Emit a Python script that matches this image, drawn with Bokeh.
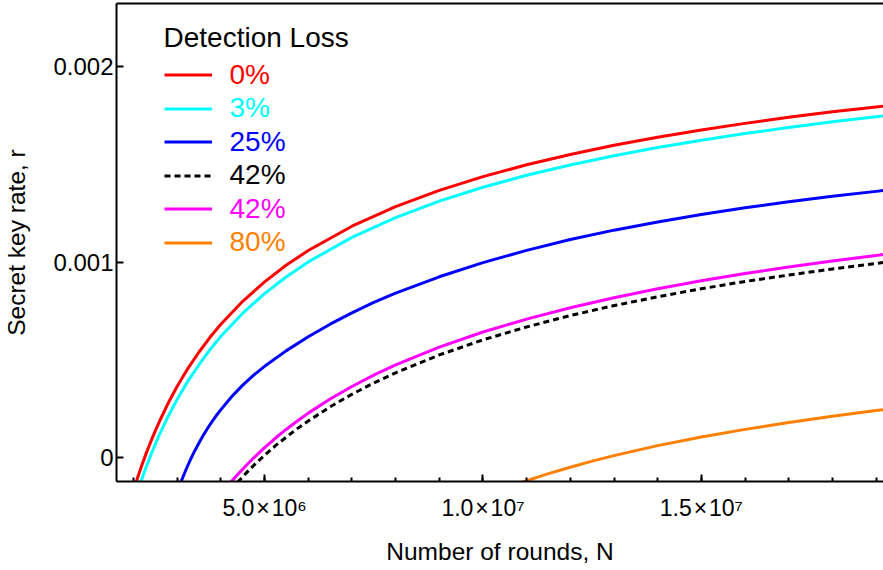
import numpy as np
from bokeh.plotting import figure
from bokeh.models import (Range1d, SingleIntervalTicker, FixedTicker, Legend,
                          LegendItem, LinearAxis)
from bokeh.embed import file_html
from bokeh.resources import INLINE

# Number of rounds N (in millions) and secret key rate r (in units of 1e-3)
n_loss0 = [2.05, 2.1, 2.2, 2.3, 2.4, 2.5, 2.6, 2.8, 3.0, 3.25, 3.5, 3.75, 4.0, 4.5,
           5.0, 5.5, 6.0, 7.0, 8.0, 9.0, 10.0, 11.0, 12.0, 13.0, 14.0, 15.0, 16.0,
           17.0, 18.0, 19.0, 19.2]
r_loss0 = [-0.131, -0.096, -0.031, 0.030, 0.086, 0.140, 0.190, 0.283, 0.366, 0.459,
           0.541, 0.616, 0.683, 0.800, 0.899, 0.985, 1.059, 1.183, 1.283, 1.366,
           1.436, 1.497, 1.549, 1.596, 1.637, 1.674, 1.708, 1.739, 1.767, 1.792, 1.797]

n_loss3 = [2.15, 2.2, 2.3, 2.4, 2.5, 2.6, 2.8, 3.0, 3.25, 3.5, 3.75, 4.0, 4.5, 5.0,
           5.5, 6.0, 7.0, 8.0, 9.0, 10.0, 11.0, 12.0, 13.0, 14.0, 15.0, 16.0, 17.0,
           18.0, 19.0, 19.2]
r_loss3 = [-0.134, -0.101, -0.040, 0.018, 0.072, 0.123, 0.216, 0.300, 0.394, 0.477,
           0.553, 0.621, 0.739, 0.839, 0.925, 1.001, 1.126, 1.227, 1.311, 1.382,
           1.443, 1.496, 1.543, 1.585, 1.622, 1.656, 1.687, 1.716, 1.742, 1.747]

n_loss25 = [3.08, 3.2, 3.3, 3.4, 3.5, 3.6, 3.7, 3.8, 3.9, 4.0, 4.25, 4.5, 4.75, 5.0,
            5.5, 6.0, 6.5, 7.0, 7.5, 8.0, 9.0, 10.0, 11.0, 12.0, 13.0, 14.0, 15.0,
            16.0, 17.0, 18.0, 19.0, 19.2]
r_loss25 = [-0.125, -0.060, -0.010, 0.036, 0.078, 0.117, 0.153, 0.187, 0.218, 0.247,
            0.314, 0.372, 0.423, 0.468, 0.548, 0.619, 0.683, 0.741, 0.794, 0.842,
            0.925, 0.997, 1.060, 1.115, 1.163, 1.205, 1.243, 1.277, 1.308, 1.336,
            1.361, 1.366]

n_loss42a = [4.38, 4.6, 4.8, 5.0, 5.25, 5.5, 5.75, 6.0, 6.5, 7.0, 7.5, 8.0, 9.0, 10.0,
             11.0, 12.0, 13.0, 14.0, 15.0, 16.0, 17.0, 18.0, 19.0, 19.2]
r_loss42a = [-0.124, -0.072, -0.027, 0.014, 0.063, 0.107, 0.150, 0.189, 0.261, 0.325,
             0.383, 0.435, 0.526, 0.603, 0.669, 0.727, 0.778, 0.823, 0.864, 0.901,
             0.934, 0.965, 0.993, 0.999]

n_loss42b = [4.23, 4.4, 4.6, 4.8, 5.0, 5.25, 5.5, 5.75, 6.0, 6.5, 7.0, 7.5, 8.0, 9.0,
             10.0, 11.0, 12.0, 13.0, 14.0, 15.0, 16.0, 17.0, 18.0, 19.0, 19.2]
r_loss42b = [-0.123, -0.080, -0.033, 0.011, 0.053, 0.102, 0.147, 0.189, 0.229, 0.301,
             0.365, 0.423, 0.475, 0.566, 0.643, 0.709, 0.767, 0.818, 0.864, 0.905,
             0.942, 0.975, 1.006, 1.034, 1.040]

n_loss80 = [10.9, 11.25, 11.5, 12.0, 12.5, 13.0, 14.0, 15.0, 16.0, 17.0, 18.0, 19.0, 19.2]
r_loss80 = [-0.124, -0.098, -0.080, -0.047, -0.016, 0.012, 0.063, 0.107, 0.146, 0.181,
            0.213, 0.242, 0.247]

legend_labels = ["0%", "3%", "25%", "42%", "42%", "80%"]
x_tick_labels = {5e6: "5.0\u200a\u00d7\u200a10\u2076",
                 1e7: "1.0\u200a\u00d7\u200a10\u2077",
                 1.5e7: "1.5\u200a\u00d7\u200a10\u2077"}
y_tick_labels = {0: "0", 0.001: "0.001", 0.002: "0.002"}

FONT = "Liberation Sans"

series = [
    (n_loss0, r_loss0, "#FF0000", None),
    (n_loss3, r_loss3, "#00FFFF", None),
    (n_loss25, r_loss25, "#0000FF", None),
    (n_loss42a, r_loss42a, "#000000", "6 4"),
    (n_loss42b, r_loss42b, "#FF00FF", None),
    (n_loss80, r_loss80, "#FF8000", None),
]

p = figure(width=883, height=570, output_backend="svg", toolbar_location=None,
           x_range=Range1d(1.61e6, 1.917e7), y_range=Range1d(-0.00012, 0.00232),
           min_border_left=116, min_border_right=0, min_border_top=3,
           min_border_bottom=89)
p.xgrid.visible = False
p.ygrid.visible = False
p.outline_line_color = None
p.background_fill_color = "white"
p.border_fill_color = "white"

renderers = []
for n_vals, r_vals, color, dash in series:
    x = np.array(n_vals) * 1e6
    y = np.array(r_vals) * 1e-3
    kw = dict(line_color=color, line_width=3, line_join="round")
    if dash:
        kw["line_dash"] = dash
    renderers.append(p.line(x, y, **kw))

# bottom axis
xa = p.xaxis[0]
xa.ticker = SingleIntervalTicker(interval=5e6, num_minor_ticks=5)
xa.major_label_overrides = x_tick_labels
xa.axis_label = "Number of rounds, N"
for ax in (xa, p.yaxis[0]):
    ax.axis_line_width = 2
    ax.major_tick_line_width = 2
    ax.minor_tick_line_width = 2
    ax.major_tick_out = 0
    ax.minor_tick_out = 0
    ax.major_label_text_font = FONT
    ax.axis_label_text_font = FONT
    ax.major_label_text_color = "black"
    ax.axis_label_text_color = "black"
    ax.axis_label_text_font_style = "normal"
xa.major_tick_in = 7
xa.minor_tick_in = 4
xa.major_label_text_font_size = "23px"
xa.major_label_standoff = 13
xa.axis_label_text_font_size = "24.5px"
xa.axis_label_standoff = 14

ya = p.yaxis[0]
ya.ticker = FixedTicker(ticks=[0, 0.001, 0.002])
ya.major_label_overrides = y_tick_labels
ya.axis_label = "Secret key rate, r"
ya.major_tick_in = 7
ya.minor_tick_in = 0
ya.major_label_text_font_size = "24px"
ya.major_label_standoff = 3
ya.axis_label_text_font_size = "24.5px"
ya.axis_label_standoff = 20

# frame line along the top
top = LinearAxis(ticker=FixedTicker(ticks=[]), axis_line_width=2,
                 major_tick_in=0, major_tick_out=0, minor_tick_in=0,
                 minor_tick_out=0, major_label_text_font_size="0px")
p.add_layout(top, "above")

# legend: one entry per box so each label keeps its line colour
row_top = 75.0
row_step = 33.5
item_h = 31
for i, (label, rend, (_, _, color, _)) in enumerate(zip(legend_labels, renderers, series)):
    center = row_top + row_step * i
    bottom = (481 - center) - item_h / 2
    leg = Legend(items=[LegendItem(label=label, renderers=[rend])],
                 location=(47.5, bottom),
                 glyph_width=48, glyph_height=item_h, label_height=item_h,
                 label_standoff=18, padding=0, margin=0, spacing=0,
                 label_text_font=FONT, label_text_font_size="28px",
                 label_text_color=color,
                 background_fill_alpha=0, border_line_alpha=0)
    if i == 0:
        leg.title = "Detection Loss"
        leg.title_text_font = FONT
        leg.title_text_font_size = "28px"
        leg.title_text_font_style = "normal"
        leg.title_text_color = "black"
        leg.title_standoff = 5
    p.add_layout(leg)

open("out.html", "w").write(file_html(p, INLINE))
